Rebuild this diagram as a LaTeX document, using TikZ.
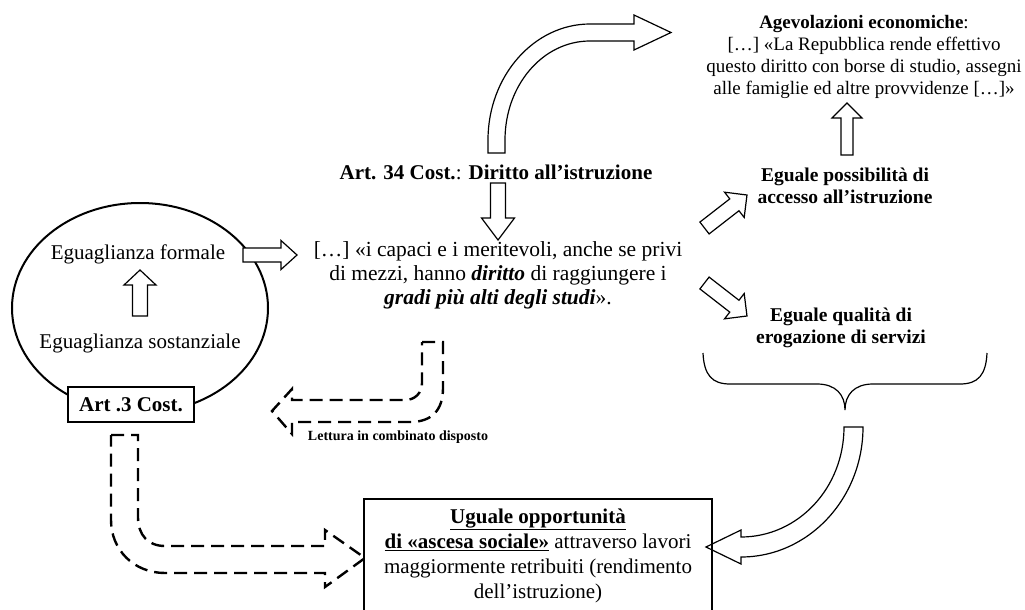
\documentclass[tikz,border=0pt]{standalone}
\usepackage{fontspec}
\setmainfont{Liberation Serif}
\usetikzlibrary{calc,shapes.geometric}
% block arrow: tail, tip, shaft half width, head half width, head length
\newcommand\barrow[5]{%
  \coordinate (ba-h) at ($(#2)!#5!(#1)$);
  \draw[blockarrow] ($(#1)!#3!90:(#2)$) -- ($(ba-h)!#3!90:(#2)$) -- ($(ba-h)!#4!90:(#2)$) -- (#2)
    -- ($(ba-h)!#4!-90:(#2)$) -- ($(ba-h)!#3!-90:(#2)$) -- ($(#1)!#3!-90:(#2)$) -- cycle;}
\begin{document}
\begin{tikzpicture}[x=1pt,y=-1pt,
  blockarrow/.style={draw=black, line width=1.2pt, fill=white, line join=miter},
  dasharrow/.style={draw=black, line width=2.4pt, dash pattern=on 13pt off 7pt},
  txt/.style={inner sep=0pt, outer sep=0pt, align=center, font=\fontsize{21}{23}\selectfont},
  rtxt/.style={inner sep=0pt, outer sep=0pt, align=center, font=\fontsize{19}{22.3}\selectfont},
  thin/.style={draw=black, line width=1.2pt}]
\useasboundingbox (0,0) rectangle (1025,610);

% left ellipse
\node[ellipse, draw, line width=2pt, minimum width=256pt, minimum height=210pt, inner sep=0pt] (eq) at (140,308) {};
\node[txt] (formale) at (138,254) {Eguaglianza formale};
\node[txt] (sost) at (140,343) {Eguaglianza sostanziale};
\barrow{140,316}{140,270}{7.5pt}{16pt}{15pt}
\node[thin, fill=white, minimum width=126pt, minimum height=35pt, inner sep=0pt,
  font=\fontsize{21}{23}\selectfont\bfseries] (art3) at (131,404.5) {Art .3 Cost.};

% centre column
\node[txt] (art34) at (496,172) {\textbf{Art. 34 Cost.}: \textbf{Diritto all’istruzione}};
\node[txt, font=\fontsize{21.5}{24}\selectfont] (quote) at (498,275) {[…] «i capaci e i meritevoli, anche se privi\\
  di mezzi, hanno \textbf{\textit{diritto}} di raggiungere i\\
  \textbf{\textit{gradi più alti degli studi}}».};
\barrow{498,183}{498,240}{7.5pt}{16.5pt}{22pt}
\barrow{243,255}{297,255}{7pt}{14.5pt}{16pt}

% top curved arrow
\draw[blockarrow] (488,153) -- (488,140) .. controls (488,76) and (534,24) .. (590,24)
  -- (634,24) -- (634,15) -- (671,32.5) -- (634,50) -- (634,41) -- (590,41)
  .. controls (543,41) and (505,85) .. (505,140) -- (505,153) -- cycle;

% right column
\node[rtxt] (agev) at (864,57) {\textbf{Agevolazioni economiche}:\\{}[…] «La Repubblica rende effettivo\\
  questo diritto con borse di studio, assegni\\alle famiglie ed altre provvidenze […]»};
\node[rtxt, font=\fontsize{19.5}{22}\selectfont\bfseries] (accesso) at (845,186) {Eguale possibilità di\\accesso all’istruzione};
\node[rtxt, font=\fontsize{19.5}{22}\selectfont\bfseries] (qualita) at (841,327.5) {Eguale qualità di\\erogazione di servizi};
\barrow{847,155}{847,103}{6pt}{15pt}{15pt}
\barrow{704.5,228}{747,195}{7.5pt}{16pt}{16pt}
\barrow{704.5,283}{747,316}{7.5pt}{16pt}{16pt}

% brace
\draw[thin] (703,353) .. controls (704,375) and (712,384) .. (730,384) -- (817,384)
  .. controls (836,384) and (845,395) .. (845,410)
  .. controls (845,395) and (854,384) .. (873,384) -- (960,384)
  .. controls (978,384) and (986,375) .. (987,353);

% bottom-right curved arrow
\draw[blockarrow] (844,427) -- (863,427) .. controls (863,499) and (808,557) .. (741,557)
  -- (741,564) -- (706,547) -- (741,530) -- (741,537)
  .. controls (798,537) and (844,488) .. (844,427) -- cycle;

% bottom box
\draw[thin] (364,610) -- (364,499) -- (712,499) -- (712,610);
\node[txt, font=\fontsize{21}{25}\selectfont] (opp) at (538,556) {\underline{\textbf{Uguale opportunità}}\\
  \underline{\textbf{di «ascesa sociale»}} attraverso lavori\\
  maggiormente retribuiti (rendimento\\dell’istruzione)};

% dashed arrows
\draw[dasharrow] (422,342) -- (443,342) -- (443,388) .. controls (443,410) and (432,422) .. (410,422)
  -- (292,422) -- (292,434) -- (272,411) -- (292,389) -- (292,400) -- (405,400)
  .. controls (415,400) and (422,393) .. (422,383) -- cycle;
\node[inner sep=0pt, font=\fontsize{14}{16}\selectfont\bfseries] (lettura) at (398,437) {Lettura in combinato disposto};

\draw[dasharrow] (111,435) -- (138,435) -- (138,517) .. controls (138,535) and (148,546) .. (165,546)
  -- (325,546) -- (325,530) -- (365,558) -- (325,587) -- (325,573) -- (165,573)
  .. controls (134,573) and (111,550) .. (111,520) -- cycle;
\end{tikzpicture}
\end{document}
